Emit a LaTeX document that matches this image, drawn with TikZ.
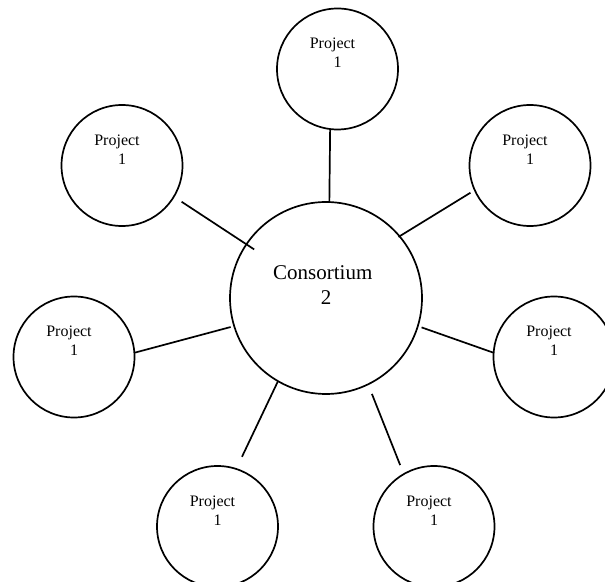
\documentclass[tikz,border=0pt]{standalone}
\usepackage{fontspec}
\setmainfont{Liberation Serif}
\begin{document}
\begin{tikzpicture}[x=0.5pt,y=-0.5pt,
    project/.style={circle,draw,line width=0.85pt,minimum size=60.5pt,inner sep=0pt,outer sep=0pt,align=center,font=\fontsize{8}{9.35}\selectfont,text depth=16.1pt},
    hubnode/.style={circle,draw,line width=0.85pt,minimum size=96pt,inner sep=0pt,outer sep=0pt,align=center,font=\fontsize{10.5}{12.5}\selectfont,text depth=12.6pt},
    spoke/.style={line width=0.85pt}]
    \clip (0,0) rectangle (605,582);
    \node[hubnode] (hub) at (326,298) {Consortium\hspace*{3.2pt}\\2};
    \node[project] (p-top) at (337.5,69) {Project\hspace*{5pt}\\1};
    \node[project] (p-ul) at (122,165.5) {Project\hspace*{5pt}\\1};
    \node[project] (p-ur) at (530,165.5) {Project\hspace*{5pt}\\1};
    \node[project] (p-l) at (74,357) {Project\hspace*{5pt}\\1};
    \node[project] (p-r) at (554,357) {Project\hspace*{5pt}\\1};
    \node[project] (p-bl) at (217.5,526.5) {Project\hspace*{5pt}\\1};
    \node[project] (p-br) at (434,526.5) {Project\hspace*{5pt}\\1};
    \draw[spoke] (hub.88) -- (p-top.-97);
    \draw[spoke,shorten <=-4.65pt,shorten >=4.65pt] (hub.146) -- (p-ul.-31);
    \draw[spoke,shorten <=-0.6pt,shorten >=2.5pt] (hub.40) -- (p-ur.-156);
    \draw[spoke,shorten <=1.85pt] (hub.197) -- (p-l.4);
    \draw[spoke,shorten <=2pt] (hub.-17) -- (p-r.176.5);
    \draw[spoke,shorten >=6.75pt] (hub.-120) -- (p-bl.72);
    \draw[spoke,shorten <=5.2pt,shorten >=4.85pt] (hub.-64) -- (p-br.120.5);
\end{tikzpicture}
\end{document}
